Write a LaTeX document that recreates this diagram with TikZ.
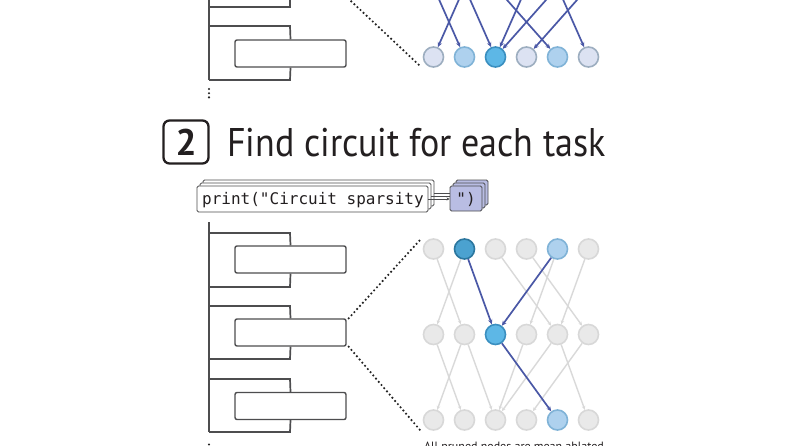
\documentclass[tikz,border=0pt]{standalone}
\usepackage{fontspec}
\setmainfont{PT Sans}
\newfontfamily\codefont{DejaVu Sans Mono}
\usetikzlibrary{arrows.meta}
\definecolor{ink}{HTML}{231F20}
\definecolor{treec}{HTML}{4D4D4F}
\definecolor{dotc}{HTML}{222222}
\definecolor{lavfill}{HTML}{DCE2F2}
\definecolor{lavdraw}{HTML}{9DAEC0}
\definecolor{lbfill}{HTML}{AED1EE}
\definecolor{lbdraw}{HTML}{80B3D7}
\definecolor{mbfill}{HTML}{5DB7E6}
\definecolor{mbdraw}{HTML}{3A8FC0}
\definecolor{dbfill}{HTML}{4BA2D0}
\definecolor{dbdraw}{HTML}{2C779F}
\definecolor{gfill}{HTML}{E9E9E9}
\definecolor{gdraw}{HTML}{D8D8D8}
\definecolor{arrowc}{HTML}{4A58A6}
\definecolor{gedge}{HTML}{D9D9D9}
\definecolor{codefill}{HTML}{B9BDE3}
\begin{document}
\begin{tikzpicture}[x=1pt,y=-1pt,
  tree/.style={draw=treec,line width=1.7pt},
  taskbox/.style={draw=treec,line width=1.4pt,rounded corners=2pt,fill=white,minimum width=111pt,minimum height=27pt,inner sep=0pt},
  dotline/.style={draw=dotc,line width=2.4pt,dash pattern=on 0pt off 4.2pt,line cap=round},
  unit/.style={circle,line width=1.6pt,minimum size=20pt,inner sep=0pt},
  lav/.style={unit,fill=lavfill,draw=lavdraw},
  lb/.style={unit,fill=lbfill,draw=lbdraw},
  mb/.style={unit,fill=mbfill,draw=mbdraw},
  db/.style={unit,fill=dbfill,draw=dbdraw},
  gr/.style={unit,fill=gfill,draw=gdraw},
  bluearrow/.style={draw=arrowc,line width=1.7pt,-{Stealth[length=5pt,width=4.5pt]}},
  grayarrow/.style={draw=gedge,line width=1.4pt,-{Stealth[length=4pt,width=3.5pt]}},
  codebox/.style={draw=treec,line width=0.9pt,rounded corners=1.5pt,inner sep=0pt},
]
\clip (0,0) rectangle (800,445);
\fill[white] (0,0) rectangle (800,445);

% ---------- top section: tree ----------
\draw[tree] (209,0) -- (209,80);
\draw[tree] (290,0) -- (290,7) -- (209,7);
\node[taskbox] (t0) at (290.5,53.5) {};
\draw[tree] (209,26) -- (290,26) -- (t0.north);
\draw[tree] (t0.south) -- (290,80) -- (209,80);
\coordinate (tv0) at (209,89);
\coordinate (tv1) at (209,101);
\draw[dotline] (tv0) -- (tv1);

% ---------- top section: network ----------
\coordinate (dz0) at (336,-13);
\coordinate (dz1) at (419,65);
\draw[dotline] (dz0) -- (dz1);
\foreach \i in {1,...,6} {\coordinate (u\i) at ({433.5+31*(\i-1)},-13);}
\node[lav] (l1) at (433.5,57) {};
\node[lb]  (l2) at (464.5,57) {};
\node[mb]  (l3) at (495.5,57) {};
\node[lav] (l4) at (526.5,57) {};
\node[lb]  (l5) at (557.5,57) {};
\node[lav] (l6) at (588.5,57) {};
\draw[bluearrow] (u2) -- (l1);
\draw[bluearrow] (u1) -- (l2);
\draw[bluearrow] (u2) -- (l3);
\draw[bluearrow] (u4) -- (l3);
\draw[bluearrow] (u5) -- (l3);
\draw[bluearrow] (u6) -- (l4);
\draw[bluearrow] (u3) -- (l5);
\draw[bluearrow] (u5) -- (l6);

% ---------- heading ----------
\node[draw=ink,line width=2.3pt,rounded corners=6pt,minimum width=45pt,minimum height=43pt,inner sep=0pt,text=ink,font=\fontsize{37}{40}\selectfont\bfseries] (num) at (186,142) {2};
\node[anchor=base west,inner sep=0pt,text=ink,font=\fontsize{40}{44}\selectfont] (title) at (227,156) {\scalebox{0.9}[1]{Find circuit for each task}};

% ---------- code stack ----------
\node[codebox,fill=white,minimum width=231pt,minimum height=26pt] (cb) at (318.5,193) {};
\node[codebox,fill=white,minimum width=231pt,minimum height=26pt] (cm) at (315.5,196) {};
\node[codebox,fill=codefill,minimum width=32pt,minimum height=25pt] (rb) at (472,192.5) {};
\node[codebox,fill=codefill,minimum width=32pt,minimum height=25pt] (rm) at (469,195.5) {};
\draw[draw=treec,line width=0.7pt] (cb.east) -- (rm.west |- cb.east);
\draw[draw=treec,line width=0.7pt] (cm.east) -- (rm.west |- cm.east);
\node[codebox,fill=white,minimum width=231pt,minimum height=26pt] (cf) at (312.5,199) {};
\node[codebox,fill=codefill,minimum width=32pt,minimum height=25pt] (rf) at (466,198.5) {};
\draw[draw=treec,line width=0.7pt,-{Stealth[length=3pt,width=3pt]}] (cf.east) -- (rf.west |- cf.east);
\node[anchor=base west,inner sep=0pt,text=ink,font=\codefont\fontsize{16}{18}\selectfont] (code) at (202,204) {print("Circuit sparsity};
\node[anchor=base,inner sep=0pt,text=ink,font=\codefont\fontsize{16}{18}\selectfont] (code2) at (466,204) {")};

% ---------- bottom section: tree ----------
\draw[tree] (209,222) -- (209,432);
\node[taskbox] (b1) at (290.5,259.5) {};
\node[taskbox] (b2) at (290.5,332.5) {};
\node[taskbox] (b3) at (290.5,406) {};
\draw[tree] (209,233) -- (290,233) -- (b1.north);
\draw[tree] (b1.south) -- (290,287) -- (209,287);
\draw[tree] (209,306) -- (290,306) -- (b2.north);
\draw[tree] (b2.south) -- (290,359) -- (209,359);
\draw[tree] (209,379) -- (290,379) -- (b3.north);
\draw[tree] (b3.south) -- (290,432) -- (209,432);
\coordinate (bv0) at (209,444.5);
\coordinate (bv1) at (209,457);
\draw[dotline] (bv0) -- (bv1);
\coordinate (dn0) at (420,240);
\coordinate (dn1) at (420,430);
\draw[dotline] ([shift={(2,0)}]b2.north east) -- (dn0);
\draw[dotline] ([shift={(2,0)}]b2.south east) -- (dn1);

% ---------- bottom section: network ----------
\node[gr] (a1) at (433.5,249) {};
\node[db] (a2) at (464.5,249) {};
\node[gr] (a3) at (495.5,249) {};
\node[gr] (a4) at (526.5,249) {};
\node[lb] (a5) at (557.5,249) {};
\node[gr] (a6) at (588.5,249) {};
\node[gr] (m1) at (433.5,334.5) {};
\node[gr] (m2) at (464.5,334.5) {};
\node[mb] (m3) at (495.5,334.5) {};
\node[gr] (m4) at (526.5,334.5) {};
\node[gr] (m5) at (557.5,334.5) {};
\node[gr] (m6) at (588.5,334.5) {};
\node[gr] (c1) at (433.5,420) {};
\node[gr] (c2) at (464.5,420) {};
\node[gr] (c3) at (495.5,420) {};
\node[gr] (c4) at (526.5,420) {};
\node[lb] (c5) at (557.5,420) {};
\node[gr] (c6) at (588.5,420) {};
\draw[grayarrow] (a1) -- (m2);
\draw[grayarrow] (a2) -- (m1);
\draw[grayarrow] (a3) -- (m5);
\draw[grayarrow] (a4) -- (m6);
\draw[grayarrow] (a5) -- (m4);
\draw[grayarrow] (a6) -- (m5);
\draw[grayarrow] (m1) -- (c2);
\draw[grayarrow] (m2) -- (c1);
\draw[grayarrow] (m2) -- (c3);
\draw[grayarrow] (m4) -- (c3);
\draw[grayarrow] (m5) -- (c3);
\draw[grayarrow] (m5) -- (c6);
\draw[grayarrow] (m6) -- (c4);
\draw[bluearrow] (a2) -- (m3);
\draw[bluearrow] (a5) -- (m3);
\draw[bluearrow] (m3) -- (c5);

\node[anchor=base,inner sep=0pt,text=ink,font=\fontsize{12}{14}\selectfont] (note) at (514,450.5) {All pruned nodes are mean ablated};
\end{tikzpicture}
\end{document}
